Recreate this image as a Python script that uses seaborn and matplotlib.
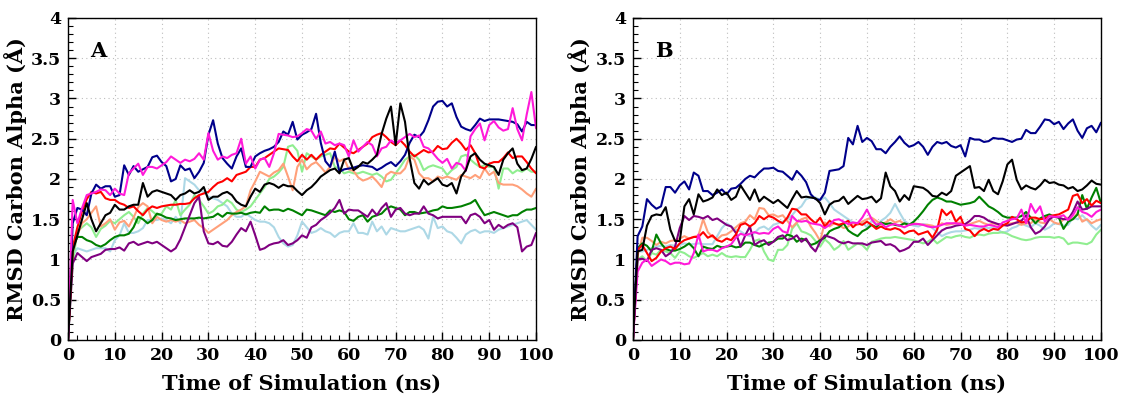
import pandas as pd
import numpy as np
import matplotlib
matplotlib.use("Agg")
import matplotlib.pyplot as plt
from matplotlib.ticker import MultipleLocator, FuncFormatter
import seaborn as sns

time_ns = list(range(0, 101))

# panel A
A_navy = [0, 1.45, 1.64, 1.62, 1.55, 1.82, 1.93, 1.88, 1.91, 1.91,
          1.78, 1.80, 2.17, 2.05, 2.16, 2.09, 2.12, 2.15, 2.27, 2.29,
          2.21, 2.16, 1.97, 2.00, 2.17, 2.11, 2.13, 2.01, 2.09, 2.20,
          2.55, 2.73, 2.44, 2.26, 2.19, 2.13, 2.28, 2.38, 2.15, 2.15,
          2.28, 2.32, 2.35, 2.37, 2.40, 2.46, 2.59, 2.55, 2.71, 2.49,
          2.55, 2.58, 2.62, 2.81, 2.45, 2.22, 2.15, 2.34, 2.09, 2.12,
          2.13, 2.14, 2.16, 2.17, 2.16, 2.15, 2.11, 2.14, 2.18, 2.21,
          2.16, 2.22, 2.30, 2.45, 2.55, 2.52, 2.59, 2.73, 2.90, 2.96,
          2.97, 2.90, 2.94, 2.77, 2.65, 2.62, 2.60, 2.67, 2.75, 2.72,
          2.74, 2.74, 2.74, 2.73, 2.72, 2.71, 2.68, 2.59, 2.71, 2.67,
          2.67]
A_red = [0, 1.15, 1.40, 1.60, 1.75, 1.84, 1.82, 1.84, 1.76, 1.74,
         1.74, 1.70, 1.68, 1.64, 1.66, 1.60, 1.55, 1.62, 1.66, 1.64,
         1.66, 1.67, 1.68, 1.68, 1.69, 1.69, 1.70, 1.76, 1.80, 1.82,
         1.84, 1.90, 1.95, 1.97, 2.01, 1.97, 2.05, 2.07, 2.09, 2.15,
         2.15, 2.24, 2.26, 2.30, 2.34, 2.38, 2.37, 2.36, 2.28, 2.22,
         2.30, 2.24, 2.30, 2.24, 2.30, 2.34, 2.38, 2.37, 2.44, 2.39,
         2.34, 2.32, 2.36, 2.40, 2.44, 2.52, 2.55, 2.57, 2.52, 2.46,
         2.42, 2.48, 2.42, 2.34, 2.28, 2.32, 2.36, 2.33, 2.34, 2.41,
         2.37, 2.38, 2.45, 2.50, 2.44, 2.36, 2.42, 2.32, 2.15, 2.13,
         2.19, 2.21, 2.21, 2.26, 2.33, 2.26, 2.28, 2.28, 2.21, 2.13,
         2.07]
A_magenta = [0, 1.74, 1.45, 1.64, 1.80, 1.82, 1.84, 1.87, 1.86, 1.80,
             1.88, 1.82, 1.80, 2.07, 2.13, 2.19, 2.05, 2.15, 2.15, 2.13,
             2.17, 2.21, 2.28, 2.24, 2.20, 2.24, 2.22, 2.25, 2.32, 2.24,
             2.57, 2.35, 2.24, 2.28, 2.26, 2.30, 2.32, 2.50, 2.19, 2.28,
             2.13, 2.24, 2.26, 2.15, 2.32, 2.56, 2.55, 2.54, 2.52, 2.53,
             2.57, 2.62, 2.60, 2.50, 2.59, 2.44, 2.46, 2.42, 2.44, 2.42,
             2.28, 2.48, 2.34, 2.40, 2.46, 2.42, 2.28, 2.38, 2.40, 2.48,
             2.44, 2.48, 2.52, 2.56, 2.52, 2.54, 2.40, 2.38, 2.32, 2.25,
             2.20, 2.25, 2.13, 2.20, 2.18, 2.10, 2.53, 2.62, 2.69, 2.48,
             2.67, 2.72, 2.64, 2.60, 2.62, 2.88, 2.62, 2.48, 2.80, 3.08,
             2.63]
A_black = [0, 1.10, 1.30, 1.50, 1.70, 1.50, 1.35, 1.45, 1.55, 1.58,
           1.68, 1.62, 1.62, 1.66, 1.68, 1.68, 1.95, 1.78, 1.84, 1.86,
           1.84, 1.82, 1.80, 1.74, 1.80, 1.82, 1.86, 1.82, 1.84, 1.90,
           1.74, 1.78, 1.78, 1.82, 1.84, 1.80, 1.72, 1.68, 1.66, 1.78,
           1.88, 1.84, 1.93, 1.95, 1.93, 1.89, 1.93, 1.91, 1.91, 1.85,
           1.80, 1.86, 1.90, 1.96, 2.03, 2.07, 2.11, 2.13, 2.07, 2.24,
           2.26, 2.11, 2.15, 2.21, 2.19, 2.24, 2.30, 2.56, 2.75, 2.90,
           2.42, 2.94, 2.71, 2.25, 1.95, 1.88, 1.99, 1.93, 1.97, 2.01,
           1.93, 1.91, 1.95, 1.82, 2.03, 2.11, 2.28, 2.32, 2.24, 2.19,
           2.17, 2.15, 2.05, 2.24, 2.32, 2.38, 2.19, 2.11, 2.13, 2.25,
           2.40]
A_salmon = [0, 1.10, 1.30, 1.45, 1.50, 1.58, 1.66, 1.41, 1.45, 1.50,
            1.37, 1.46, 1.48, 1.41, 1.52, 1.65, 1.70, 1.66, 1.45, 1.53,
            1.49, 1.47, 1.49, 1.47, 1.49, 1.45, 1.47, 1.49, 1.43, 1.39,
            1.33, 1.37, 1.41, 1.45, 1.49, 1.55, 1.59, 1.62, 1.66, 1.86,
            1.97, 2.09, 2.06, 2.03, 2.08, 2.11, 2.19, 2.03, 1.86, 2.15,
            2.24, 2.12, 2.18, 2.21, 2.15, 2.08, 2.15, 2.28, 2.22, 2.25,
            2.12, 2.10, 2.02, 1.98, 2.00, 2.03, 1.97, 1.90, 2.05, 2.09,
            2.07, 2.07, 2.13, 2.28, 2.24, 2.07, 2.01, 2.01, 1.97, 2.03,
            2.01, 2.03, 2.01, 1.99, 2.05, 2.03, 2.01, 2.05, 2.01, 2.13,
            2.05, 2.09, 1.95, 1.93, 1.93, 1.93, 1.91, 1.87, 1.82, 1.78,
            1.88]
A_lgreen = [0, 0.95, 1.35, 1.40, 1.45, 1.40, 1.28, 1.38, 1.42, 1.48,
            1.45, 1.50, 1.55, 1.59, 1.53, 1.45, 1.57, 1.64, 1.60, 1.55,
            1.57, 1.66, 1.62, 1.74, 1.55, 1.62, 1.68, 1.80, 1.74, 1.66,
            1.57, 1.60, 1.66, 1.68, 1.74, 1.70, 1.62, 1.59, 1.62, 1.66,
            1.74, 1.82, 1.90, 2.00, 2.03, 2.08, 2.15, 2.40, 2.42, 2.35,
            2.09, 2.32, 2.28, 2.24, 2.28, 2.30, 2.32, 2.15, 2.13, 2.07,
            2.09, 2.07, 2.07, 2.09, 2.07, 2.05, 2.07, 2.03, 1.97, 1.99,
            2.07, 2.15, 2.24, 2.28, 2.30, 2.24, 2.11, 2.15, 2.17, 2.15,
            2.13, 2.05, 2.11, 2.15, 2.28, 2.30, 2.24, 2.19, 2.15, 2.17,
            2.15, 2.15, 1.88, 2.13, 2.13, 2.07, 2.11, 2.09, 2.13, 2.09,
            2.09]
A_green = [0, 1.15, 1.28, 1.28, 1.24, 1.22, 1.18, 1.16, 1.19, 1.24,
           1.28, 1.30, 1.30, 1.32, 1.40, 1.53, 1.50, 1.45, 1.49, 1.57,
           1.55, 1.52, 1.51, 1.49, 1.50, 1.51, 1.51, 1.51, 1.52, 1.51,
           1.52, 1.53, 1.57, 1.53, 1.58, 1.57, 1.57, 1.58, 1.56, 1.58,
           1.59, 1.58, 1.66, 1.61, 1.62, 1.62, 1.60, 1.63, 1.61, 1.58,
           1.55, 1.62, 1.61, 1.59, 1.57, 1.55, 1.61, 1.59, 1.61, 1.59,
           1.50, 1.48, 1.53, 1.55, 1.47, 1.53, 1.55, 1.57, 1.63, 1.66,
           1.64, 1.62, 1.55, 1.59, 1.59, 1.57, 1.58, 1.59, 1.61, 1.62,
           1.66, 1.64, 1.64, 1.65, 1.66, 1.68, 1.70, 1.74, 1.64, 1.55,
           1.57, 1.59, 1.57, 1.55, 1.53, 1.55, 1.55, 1.59, 1.62, 1.62,
           1.64]
A_purple = [0, 0.95, 1.08, 1.03, 0.98, 1.03, 1.05, 1.07, 1.12, 1.13,
            1.13, 1.15, 1.11, 1.20, 1.22, 1.18, 1.20, 1.22, 1.20, 1.22,
            1.18, 1.14, 1.10, 1.14, 1.25, 1.40, 1.55, 1.70, 1.78, 1.35,
            1.20, 1.19, 1.22, 1.17, 1.16, 1.22, 1.31, 1.39, 1.35, 1.47,
            1.30, 1.12, 1.14, 1.18, 1.20, 1.21, 1.24, 1.18, 1.20, 1.24,
            1.30, 1.27, 1.40, 1.43, 1.49, 1.53, 1.58, 1.64, 1.74, 1.57,
            1.62, 1.61, 1.61, 1.57, 1.53, 1.62, 1.55, 1.64, 1.70, 1.53,
            1.62, 1.64, 1.57, 1.55, 1.57, 1.57, 1.66, 1.57, 1.55, 1.51,
            1.53, 1.53, 1.53, 1.53, 1.53, 1.45, 1.55, 1.57, 1.53, 1.45,
            1.49, 1.37, 1.43, 1.39, 1.43, 1.45, 1.40, 1.10, 1.16, 1.18,
            1.33]
A_lblue = [0, 1.05, 1.14, 1.12, 1.10, 1.12, 1.14, 1.14, 1.14, 1.10,
           1.24, 1.30, 1.45, 1.33, 1.33, 1.35, 1.39, 1.49, 1.49, 1.49,
           1.51, 1.49, 1.45, 1.53, 1.45, 2.01, 1.97, 1.93, 1.86, 1.84,
           1.78, 1.76, 1.74, 1.70, 1.66, 1.57, 1.53, 1.53, 1.57, 1.53,
           1.49, 1.47, 1.47, 1.45, 1.40, 1.28, 1.20, 1.16, 1.18, 1.30,
           1.47, 1.40, 1.33, 1.35, 1.39, 1.35, 1.33, 1.28, 1.33, 1.35,
           1.35, 1.45, 1.33, 1.33, 1.31, 1.47, 1.35, 1.41, 1.31, 1.39,
           1.37, 1.35, 1.35, 1.37, 1.39, 1.41, 1.37, 1.26, 1.53, 1.39,
           1.41, 1.35, 1.33, 1.27, 1.20, 1.31, 1.35, 1.37, 1.33, 1.35,
           1.35, 1.33, 1.37, 1.39, 1.41, 1.43, 1.45, 1.47, 1.49, 1.43,
           1.37]

# panel B
B_navy = [0, 1.29, 1.41, 1.75, 1.68, 1.63, 1.66, 1.90, 1.90, 1.83,
          1.92, 1.97, 1.87, 2.08, 2.04, 1.85, 1.85, 1.80, 1.83, 1.87,
          1.81, 1.88, 1.89, 1.94, 2.00, 2.04, 2.02, 2.08, 2.13, 2.13,
          2.14, 2.10, 2.09, 2.04, 1.99, 2.10, 2.04, 1.96, 1.81, 1.75,
          1.74, 1.83, 2.10, 2.11, 2.12, 2.16, 2.51, 2.43, 2.66, 2.46,
          2.51, 2.47, 2.37, 2.37, 2.32, 2.40, 2.46, 2.53, 2.45, 2.40,
          2.42, 2.46, 2.40, 2.30, 2.40, 2.46, 2.44, 2.46, 2.41, 2.39,
          2.42, 2.28, 2.51, 2.49, 2.49, 2.46, 2.47, 2.51, 2.50, 2.50,
          2.48, 2.46, 2.49, 2.50, 2.61, 2.57, 2.57, 2.65, 2.74, 2.73,
          2.68, 2.71, 2.62, 2.69, 2.74, 2.60, 2.51, 2.63, 2.66, 2.58,
          2.70]
B_red = [0, 1.12, 1.18, 1.08, 0.98, 1.02, 1.10, 1.14, 1.16, 1.13,
         1.20, 1.24, 1.26, 1.28, 1.28, 1.34, 1.27, 1.30, 1.24, 1.22,
         1.26, 1.24, 1.31, 1.43, 1.45, 1.41, 1.45, 1.54, 1.50, 1.54,
         1.52, 1.48, 1.45, 1.52, 1.63, 1.62, 1.56, 1.56, 1.50, 1.45,
         1.52, 1.41, 1.48, 1.45, 1.43, 1.45, 1.48, 1.40, 1.45, 1.43,
         1.47, 1.43, 1.38, 1.41, 1.38, 1.37, 1.39, 1.37, 1.32, 1.35,
         1.36, 1.31, 1.33, 1.35, 1.27, 1.37, 1.62, 1.55, 1.60, 1.47,
         1.53, 1.38, 1.36, 1.29, 1.35, 1.38, 1.35, 1.38, 1.37, 1.42,
         1.45, 1.53, 1.50, 1.46, 1.47, 1.52, 1.52, 1.50, 1.51, 1.54,
         1.55, 1.56, 1.59, 1.62, 1.79, 1.81, 1.70, 1.75, 1.67, 1.73,
         1.70]
B_magenta = [0, 0.85, 0.96, 1.00, 0.92, 0.96, 1.00, 0.98, 0.94, 0.96,
             0.96, 0.94, 0.95, 1.08, 1.31, 1.10, 1.12, 1.12, 1.10, 1.14,
             1.16, 1.19, 1.27, 1.32, 1.30, 1.32, 1.34, 1.32, 1.33, 1.32,
             1.38, 1.41, 1.35, 1.33, 1.54, 1.48, 1.47, 1.48, 1.45, 1.44,
             1.43, 1.39, 1.43, 1.49, 1.50, 1.47, 1.44, 1.46, 1.45, 1.52,
             1.62, 1.50, 1.43, 1.45, 1.40, 1.43, 1.44, 1.42, 1.40, 1.43,
             1.44, 1.44, 1.43, 1.41, 1.40, 1.41, 1.43, 1.45, 1.45, 1.45,
             1.44, 1.42, 1.43, 1.42, 1.41, 1.41, 1.43, 1.42, 1.40, 1.46,
             1.48, 1.50, 1.51, 1.62, 1.45, 1.69, 1.58, 1.66, 1.47, 1.54,
             1.53, 1.53, 1.55, 1.49, 1.55, 1.65, 1.59, 1.57, 1.53, 1.59,
             1.62]
B_black = [0, 1.10, 1.12, 1.42, 1.54, 1.56, 1.55, 1.65, 1.37, 1.23,
           1.23, 1.66, 1.75, 1.56, 1.81, 1.72, 1.74, 1.77, 1.87, 1.80,
           1.83, 1.74, 1.78, 1.92, 1.83, 1.74, 1.87, 1.72, 1.78, 1.74,
           1.70, 1.74, 1.69, 1.64, 1.75, 1.85, 1.77, 1.78, 1.77, 1.76,
           1.70, 1.56, 1.68, 1.72, 1.73, 1.78, 1.69, 1.74, 1.79, 1.75,
           1.76, 1.78, 1.71, 1.76, 2.08, 1.91, 1.85, 1.72, 1.80, 1.74,
           1.91, 1.90, 1.89, 1.85, 1.79, 1.78, 1.83, 1.80, 1.85, 2.04,
           2.08, 2.12, 2.16, 1.89, 1.90, 1.85, 1.99, 1.85, 1.81, 1.97,
           2.18, 2.24, 1.99, 1.87, 1.92, 1.89, 1.87, 1.92, 1.99, 1.95,
           1.96, 1.93, 1.92, 1.88, 1.90, 1.85, 1.87, 1.92, 1.98, 1.94,
           1.93]
B_salmon = [0, 1.05, 1.27, 1.27, 1.23, 1.18, 1.22, 1.20, 1.23, 1.24,
            1.26, 1.29, 1.26, 1.28, 1.30, 1.50, 1.34, 1.28, 1.25, 1.30,
            1.31, 1.35, 1.40, 1.45, 1.47, 1.55, 1.50, 1.64, 1.63, 1.55,
            1.56, 1.53, 1.55, 1.48, 1.40, 1.46, 1.50, 1.52, 1.41, 1.33,
            1.23, 1.46, 1.41, 1.45, 1.43, 1.39, 1.41, 1.45, 1.43, 1.47,
            1.50, 1.52, 1.48, 1.44, 1.46, 1.50, 1.46, 1.48, 1.44, 1.43,
            1.45, 1.44, 1.43, 1.43, 1.42, 1.39, 1.45, 1.43, 1.44, 1.45,
            1.46, 1.43, 1.44, 1.46, 1.48, 1.45, 1.43, 1.45, 1.43, 1.43,
            1.44, 1.45, 1.46, 1.43, 1.45, 1.45, 1.50, 1.46, 1.45, 1.50,
            1.46, 1.44, 1.50, 1.52, 1.50, 1.58, 1.47, 1.50, 1.45, 1.48,
            1.50]
B_lgreen = [0, 1.00, 1.04, 0.98, 1.08, 1.06, 1.12, 1.10, 1.08, 1.02,
            1.10, 1.08, 1.04, 1.02, 1.05, 1.08, 1.04, 1.06, 1.04, 1.08,
            1.04, 1.03, 1.04, 1.03, 1.03, 1.12, 1.23, 1.25, 1.10, 1.00,
            0.98, 1.12, 1.12, 1.18, 1.38, 1.45, 1.35, 1.33, 1.30, 1.23,
            1.16, 1.25, 1.20, 1.12, 1.16, 1.23, 1.12, 1.16, 1.20, 1.18,
            1.12, 1.22, 1.24, 1.26, 1.27, 1.27, 1.28, 1.27, 1.26, 1.25,
            1.24, 1.22, 1.20, 1.22, 1.26, 1.20, 1.24, 1.28, 1.27, 1.29,
            1.30, 1.28, 1.27, 1.30, 1.31, 1.30, 1.32, 1.33, 1.33, 1.34,
            1.32, 1.29, 1.27, 1.25, 1.24, 1.25, 1.27, 1.28, 1.28, 1.28,
            1.27, 1.28, 1.26, 1.19, 1.21, 1.21, 1.20, 1.19, 1.22, 1.31,
            1.37]
B_green = [0, 1.14, 1.20, 1.17, 1.10, 1.31, 1.20, 1.13, 1.11, 1.11,
           1.13, 1.16, 1.20, 1.14, 1.04, 1.16, 1.14, 1.13, 1.17, 1.15,
           1.16, 1.17, 1.15, 1.16, 1.21, 1.21, 1.18, 1.16, 1.19, 1.21,
           1.22, 1.26, 1.26, 1.31, 1.29, 1.22, 1.26, 1.24, 1.18, 1.20,
           1.24, 1.27, 1.35, 1.38, 1.40, 1.45, 1.36, 1.32, 1.29, 1.35,
           1.38, 1.43, 1.40, 1.46, 1.44, 1.45, 1.43, 1.42, 1.45, 1.43,
           1.47, 1.53, 1.60, 1.68, 1.74, 1.77, 1.75, 1.72, 1.72, 1.70,
           1.68, 1.69, 1.70, 1.72, 1.78, 1.72, 1.66, 1.63, 1.59, 1.54,
           1.52, 1.52, 1.52, 1.54, 1.59, 1.52, 1.45, 1.51, 1.54, 1.56,
           1.53, 1.52, 1.38, 1.47, 1.50, 1.56, 1.80, 1.63, 1.77, 1.89,
           1.70]
B_purple = [0, 1.00, 1.01, 0.98, 1.12, 1.14, 1.12, 1.04, 1.08, 1.16,
            1.39, 1.54, 1.49, 1.54, 1.53, 1.51, 1.54, 1.49, 1.51, 1.47,
            1.43, 1.41, 1.33, 1.16, 1.30, 1.41, 1.18, 1.22, 1.24, 1.18,
            1.22, 1.28, 1.30, 1.24, 1.26, 1.30, 1.22, 1.26, 1.16, 1.10,
            1.22, 1.30, 1.28, 1.26, 1.22, 1.20, 1.22, 1.20, 1.20, 1.20,
            1.18, 1.21, 1.22, 1.23, 1.18, 1.19, 1.16, 1.10, 1.12, 1.15,
            1.22, 1.22, 1.26, 1.18, 1.24, 1.30, 1.36, 1.39, 1.40, 1.42,
            1.43, 1.44, 1.48, 1.54, 1.54, 1.52, 1.48, 1.46, 1.44, 1.43,
            1.42, 1.44, 1.46, 1.48, 1.55, 1.40, 1.32, 1.35, 1.41, 1.50,
            1.54, 1.52, 1.50, 1.50, 1.59, 1.72, 1.62, 1.63, 1.66, 1.66,
            1.66]
B_lblue = [0, 1.10, 1.10, 1.12, 1.14, 1.16, 1.17, 1.16, 1.18, 1.17,
           1.18, 1.20, 1.19, 1.19, 1.20, 1.19, 1.19, 1.19, 1.29, 1.39,
           1.45, 1.41, 1.37, 1.35, 1.31, 1.29, 1.33, 1.39, 1.41, 1.37,
           1.43, 1.45, 1.47, 1.50, 1.55, 1.62, 1.66, 1.75, 1.77, 1.77,
           1.74, 1.77, 1.70, 1.62, 1.58, 1.54, 1.50, 1.46, 1.45, 1.46,
           1.40, 1.48, 1.44, 1.48, 1.52, 1.58, 1.69, 1.58, 1.48, 1.44,
           1.42, 1.41, 1.44, 1.43, 1.39, 1.34, 1.29, 1.32, 1.34, 1.35,
           1.35, 1.36, 1.37, 1.39, 1.38, 1.40, 1.39, 1.40, 1.37, 1.33,
           1.35, 1.39, 1.41, 1.45, 1.42, 1.40, 1.45, 1.42, 1.37, 1.40,
           1.45, 1.44, 1.42, 1.43, 1.52, 1.50, 1.55, 1.49, 1.42, 1.37,
           1.43]

# draw order (first = bottom)
systems = ["lightblue", "lightgreen", "salmon", "green", "purple",
           "red", "navy", "magenta", "black"]
colors = {"lightblue": "#add8e6", "lightgreen": "#90ee90", "salmon": "#ffa07a",
          "green": "#008000", "purple": "#800080", "red": "#ff0000",
          "navy": "#00008b", "magenta": "#ff1ad9", "black": "#000000"}

panel_A = {"lightblue": A_lblue, "lightgreen": A_lgreen, "salmon": A_salmon,
           "green": A_green, "purple": A_purple, "red": A_red,
           "navy": A_navy, "magenta": A_magenta, "black": A_black}
panel_B = {"lightblue": B_lblue, "lightgreen": B_lgreen, "salmon": B_salmon,
           "green": B_green, "purple": B_purple, "red": B_red,
           "navy": B_navy, "magenta": B_magenta, "black": B_black}


def long_df(panel):
    parts = []
    for name in systems:
        parts.append(pd.DataFrame({"time": time_ns, "rmsd": panel[name], "system": name}))
    return pd.concat(parts, ignore_index=True)


sns.set_style("white")
plt.rcParams["font.family"] = ["DejaVu Serif"]
plt.rcParams["font.weight"] = "bold"
plt.rcParams["axes.labelweight"] = "bold"
plt.rcParams["text.color"] = "black"
plt.rcParams["axes.labelcolor"] = "black"
plt.rcParams["xtick.color"] = "black"
plt.rcParams["ytick.color"] = "black"

fig, axes = plt.subplots(1, 2, figsize=(11.3, 3.97), dpi=100)
plt.subplots_adjust(left=0.0602, right=0.9743, bottom=0.1436, top=0.9547, wspace=0.207)

for ax, panel, letter in zip(axes, [panel_A, panel_B], ["A", "B"]):
    df = long_df(panel)
    sns.lineplot(data=df, x="time", y="rmsd", hue="system", hue_order=systems,
                 palette=colors, linewidth=1.5, legend=False, ax=ax)

    ax.set_xlim(0, 100)
    ax.set_ylim(0, 4)
    ax.xaxis.set_major_locator(MultipleLocator(10))
    ax.xaxis.set_minor_locator(MultipleLocator(2))
    ax.yaxis.set_major_locator(MultipleLocator(0.5))
    ax.yaxis.set_minor_locator(MultipleLocator(0.1))
    ax.yaxis.set_major_formatter(FuncFormatter(lambda v, p: "%g" % v))
    ax.tick_params(which="both", direction="in", top=False, right=False,
                   left=True, bottom=True, labelsize=12.5)
    ax.tick_params(which="major", length=6, width=1, pad=5)
    ax.tick_params(which="minor", length=3.5, width=0.8)
    ax.grid(True, which="major", linestyle=(0, (1, 3)), color="#bdbdbd", linewidth=0.8)
    for sp in ax.spines.values():
        sp.set_color("black")
        sp.set_linewidth(1.0)

    ax.set_xlabel("Time of Simulation (ns)", fontsize=15, fontweight="bold", labelpad=7)
    ax.set_ylabel("RMSD Carbon Alpha (Å)", fontsize=15, fontweight="bold", labelpad=3)
    ax.text(0.047, 0.897, letter, transform=ax.transAxes, fontsize=15,
            fontweight="bold", ha="left", va="center")

plt.savefig("out.png", dpi=100)
